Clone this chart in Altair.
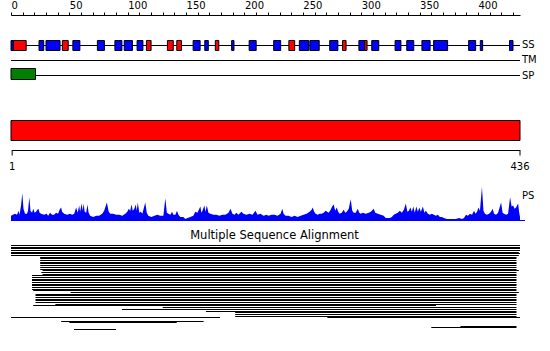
import altair as alt
import pandas as pd

FONT = "DejaVu Sans"
SEQ_LEN = 436

# Secondary structure elements (E = strand, blue; H = helix, red)
ss_type = ["E", "H", "E", "E", "H", "E", "E", "E", "E", "E", "H", "H", "H", "E", "E", "H", "E",
           "E", "E", "H", "E", "E", "E", "H", "E", "H", "E", "E", "E", "E", "E", "E", "E", "E"]
ss_start = [0, 2, 24, 30, 44, 53, 74, 89, 97, 108, 116, 134, 142, 156, 166, 175, 189,
            204, 225, 238, 247, 256, 273, 284, 298, 303, 309, 329, 339, 352, 362, 392, 402, 427]
ss_end = [2, 13, 28, 42, 49, 59, 80, 95, 104, 113, 120, 139, 146, 162, 169, 178, 191,
          210, 231, 243, 255, 264, 280, 287, 303, 305, 315, 334, 345, 359, 374, 398, 404, 430]

# Signal peptide
sp_start = [0]
sp_end = [21]

# Lower ruler
ruler_ticks = [1, 436]

# PS profile (residue, height)
ps_pos = [0, 1.7, 3.4, 5.2, 6.4, 7.3, 8.6, 9.7, 10.7, 12,
          13.7, 14.6, 15.7, 16.7, 18, 19.1, 20.2, 21.5, 22.6, 23.4,
          24.5, 25.8, 28.3, 30.5, 31.8, 33.5, 35.2, 36.9, 38.6, 40.3,
          41.6, 42.9, 43.8, 45.5, 48.1, 50.6, 52.4, 54.1, 55.8, 57.1,
          58.4, 59.2, 60.5, 61.4, 62.2, 63.1, 64.4, 65.5, 66.5, 67.8,
          70.4, 73, 75.5, 78.1, 79.8, 82.1, 83.7, 85, 87.6, 90.1,
          92.7, 95.3, 97.9, 99.6, 100.9, 102.1, 103.3, 104.3, 105.6, 106.9,
          107.7, 108.6, 109.9, 111.2, 112.5, 115, 116.3, 117.6, 120.2, 122.8,
          125.3, 127.9, 130.5, 132.2, 133.5, 134.8, 136.5, 137.9, 139.1, 140.8,
          142.2, 143.4, 145.1, 147.6, 149.4, 151.1, 153.6, 156.2, 157.9, 159.7,
          160.9, 162.2, 163.1, 164, 165.7, 166.5, 167.8, 169.1, 170.8, 173.4,
          176, 178.5, 181.1, 183.7, 186.3, 188, 189.7, 191.4, 193.1, 194.8,
          197.4, 199.1, 201.7, 204.3, 206.9, 209.4, 211.2, 213.7, 216.3, 218.9,
          220.6, 223.2, 225.8, 228.3, 230.9, 232.4, 233.5, 235.2, 237.8, 240.3,
          242.9, 245.5, 248.1, 250.6, 253.2, 255.8, 257.5, 258.4, 259.7, 260.9,
          262.7, 264.4, 266.1, 267.8, 269.5, 270.8, 272.1, 273.8, 275.1, 276.4,
          277.7, 279, 280.3, 281.5, 283.3, 285, 286.3, 287.6, 289.3, 291,
          292.3, 293.6, 295.3, 297, 298.3, 299.6, 301.3, 303.9, 306.4, 308.2,
          310.7, 312, 314.2, 316.7, 319.3, 321, 322.7, 324.5, 326.2, 327.9,
          329.6, 331.3, 333.1, 334.8, 336.5, 338.2, 339.5, 340.8, 342.1, 343.4,
          344.6, 345.9, 347.2, 348.5, 349.8, 351.1, 352.8, 354.1, 355.4, 357.1,
          358.8, 360.5, 362.2, 364, 365.7, 367.4, 369.1, 370.8, 373.4, 376,
          378.5, 381.1, 383.7, 386.3, 388, 389.7, 391.4, 393.2, 394.9, 396.6,
          397.9, 399.2, 400.4, 401.7, 403.4, 404.7, 406, 407.7, 409.5, 411.2,
          412.5, 413.8, 415.5, 417.2, 419.8, 421.1, 422.3, 424.1, 425.8, 427.5,
          428.8, 430.1, 431.4, 432.6, 434.4, 435.2, 436]
ps_val = [5, 6, 7, 6, 10, 6, 15, 27, 12, 7,
          7, 10, 23, 10, 8, 12, 8, 9, 11, 12,
          8, 7, 6, 7, 5, 8, 6, 6, 8, 7,
          11, 13, 9, 7, 6, 7, 6, 7, 13, 8,
          15, 9, 17, 10, 17, 9, 8, 16, 8, 5,
          4, 5, 5, 7, 10, 18, 9, 7, 7, 6,
          6, 5, 7, 9, 12, 10, 16, 10, 12, 16,
          10, 18, 8, 9, 7, 18, 8, 5, 4, 5,
          6, 5, 5, 22, 8, 7, 6, 9, 6, 6,
          10, 6, 4, 4, 2, 3, 4, 5, 9, 8,
          11, 14, 8, 10, 15, 9, 15, 8, 7, 6,
          6, 5, 6, 6, 8, 12, 7, 6, 8, 6,
          9, 7, 6, 7, 6, 10, 6, 7, 5, 6,
          5, 6, 6, 5, 7, 12, 7, 5, 5, 4,
          5, 4, 5, 6, 7, 9, 11, 13, 9, 7,
          6, 7, 7, 8, 10, 9, 8, 11, 14, 16,
          10, 13, 9, 7, 8, 11, 8, 9, 12, 21,
          10, 8, 8, 12, 8, 7, 8, 7, 8, 9,
          12, 8, 7, 6, 5, 3, 3, 3, 4, 6,
          7, 8, 10, 8, 11, 17, 9, 10, 13, 9,
          14, 8, 14, 9, 13, 9, 14, 8, 10, 7,
          6, 7, 6, 5, 6, 4, 4, 3, 2, 2,
          2, 2, 3, 2, 3, 6, 5, 7, 6, 10,
          7, 9, 13, 10, 33, 10, 7, 6, 7, 9,
          12, 7, 6, 8, 18, 8, 7, 6, 7, 23,
          14, 15, 12, 13, 17, 9, 4]

# Multiple sequence alignment: row index, start, end
msa_row = [0, 1, 2, 3, 4, 5, 6,
           7, 8, 9, 10, 11, 12, 13, 14,
           15, 16, 17,
           18, 19, 20, 21, 22, 23, 24, 25, 26,
           27, 28,
           29, 30, 31, 32, 33, 34,
           35, 36, 37, 38, 39, 40, 41, 42,
           43, 43, 45, 46, 48, 49, 50]
msa_start = [0, 0, 0, 0, 0, 0, 0,
             25, 25, 25, 25, 25, 25, 25, 25,
             27, 26, 27,
             18, 18, 18, 18, 18, 18, 18, 18, 18,
             19, 51,
             21, 21, 21, 21, 21, 21,
             38, 19, 130, 95, 167, 192, 192, 192,
             0, 271, 43, 50, 385, 360, 54]
msa_end = [436, 436, 436, 436, 435, 436, 435,
           433, 433, 433, 433, 433, 433, 433, 433,
           435, 433, 433,
           433, 433, 433, 433, 433, 433, 433, 433, 433,
           433, 435,
           433, 433, 433, 433, 433, 433,
           433, 364, 433, 433, 433, 433, 433, 433,
           179, 436, 165, 142, 433, 433, 90]

ss_df = pd.DataFrame({"type": ss_type, "start": ss_start, "end": ss_end})
sp_df = pd.DataFrame({"start": sp_start, "end": sp_end})
full_df = pd.DataFrame({"start": [0], "end": [SEQ_LEN]})
ruler_df = pd.DataFrame({"pos": ruler_ticks, "end": [ruler_ticks[-1]] * len(ruler_ticks),
                         "first": [ruler_ticks[0]] * len(ruler_ticks)})
ps_df = pd.DataFrame({"pos": ps_pos, "val": ps_val})
msa_df = pd.DataFrame({"row": msa_row, "start": msa_start, "end": msa_end})

xs = alt.Scale(domain=[0, SEQ_LEN], nice=False, zero=False)
top_axis = alt.Axis(
    orient="top", values=list(range(0, 440, 10)),
    labelExpr="datum.value % 50 == 0 ? datum.label : ''",
    labelAlign="left", labelFlush=False, labelOverlap=False, labelBound=False,
    tickSize=3, labelPadding=2, tickColor="black", domainColor="black",
    labelColor="black", labelFont=FONT, labelFontSize=10, grid=False, title=None,
)


def X(field):
    return alt.X(field, type="quantitative", scale=xs, axis=top_axis)


def X2(field):
    return alt.X2(field)


def track_line(y):
    return alt.Chart(full_df).mark_rule(color="black", strokeWidth=1).encode(
        x=X("start"), x2=X2("end"), y=alt.value(y))


def label(text, y, font_size=10):
    return alt.Chart(full_df).mark_text(
        text=text, align="left", baseline="middle", dx=2, font=FONT,
        fontSize=font_size, color="black").encode(x=X("end"), y=alt.value(y))


ss_line = track_line(30.5)
tm_line = track_line(45.5)
sp_line = track_line(60.5)

ss_boxes = alt.Chart(ss_df).mark_rect(stroke="black", strokeWidth=1).encode(
    x=X("start"), x2=X2("end"), y=alt.value(25.5), y2=alt.value(35.5),
    color=alt.Color("type:N", scale=alt.Scale(domain=["H", "E"], range=["#ff0000", "#0000ff"]),
                    legend=None),
)
sp_boxes = alt.Chart(sp_df).mark_rect(stroke="black", strokeWidth=1, color="#008000").encode(
    x=X("start"), x2=X2("end"), y=alt.value(53.5), y2=alt.value(64.5))

bar = alt.Chart(full_df).mark_rect(stroke="black", strokeWidth=1, color="#ff0000").encode(
    x=X("start"), x2=X2("end"), y=alt.value(105.5), y2=alt.value(125.5))

ruler_line = alt.Chart(ruler_df.iloc[:1]).mark_rule(color="black").encode(
    x=X("first"), x2=X2("end"), y=alt.value(135.5))
ruler_ticks_m = alt.Chart(ruler_df).mark_rule(color="black").encode(
    x=X("pos"), y=alt.value(135), y2=alt.value(140.5))
ruler_text = alt.Chart(ruler_df).mark_text(
    align="center", baseline="alphabetic", font=FONT, fontSize=10, color="black").encode(
    x=X("pos"), y=alt.value(155), text="pos:Q")

ps_area = alt.Chart(ps_df).mark_area(color="#0000ff", opacity=1, interpolate="linear").encode(
    x=X("pos"),
    y=alt.Y("val:Q", scale=alt.Scale(domain=[0, 33], range=[206, 172], nice=False), axis=None),
)
ps_base = alt.Chart(full_df).mark_rule(color="#0000ff").encode(
    x=X("start"), x2=alt.value(514), y=alt.value(205.5))

title = alt.Chart(full_df).mark_text(
    text="Multiple Sequence Alignment", align="center", baseline="alphabetic",
    font=FONT, fontSize=11.5, color="black").encode(x=alt.value(263.5), y=alt.value(224))

msa = alt.Chart(msa_df).mark_rule(color="black", strokeWidth=1, yOffset=0.5).encode(
    x=X("start"), x2=X2("end"),
    y=alt.Y("row:Q", scale=alt.Scale(domain=[0, 50], range=[230, 314], nice=False, zero=False,
                                     round=True),
            axis=None),
)

chart = alt.layer(
    ss_line, tm_line, sp_line, ss_boxes, sp_boxes,
    label("SS", 30), label("TM", 45.3), label("SP", 60.8),
    bar, ruler_line, ruler_ticks_m, ruler_text,
    ps_base, ps_area, label("PS", 180.5),
    title, msa,
).resolve_scale(y="independent").properties(
    width=509, height=336,
    padding={"left": 11, "top": 15, "right": 30, "bottom": 0},
    autosize=alt.AutoSizeParams(type="none"),
    background="white",
).configure_view(stroke=None)

chart.save("out.html", embed_options={"renderer": "svg", "actions": False})
